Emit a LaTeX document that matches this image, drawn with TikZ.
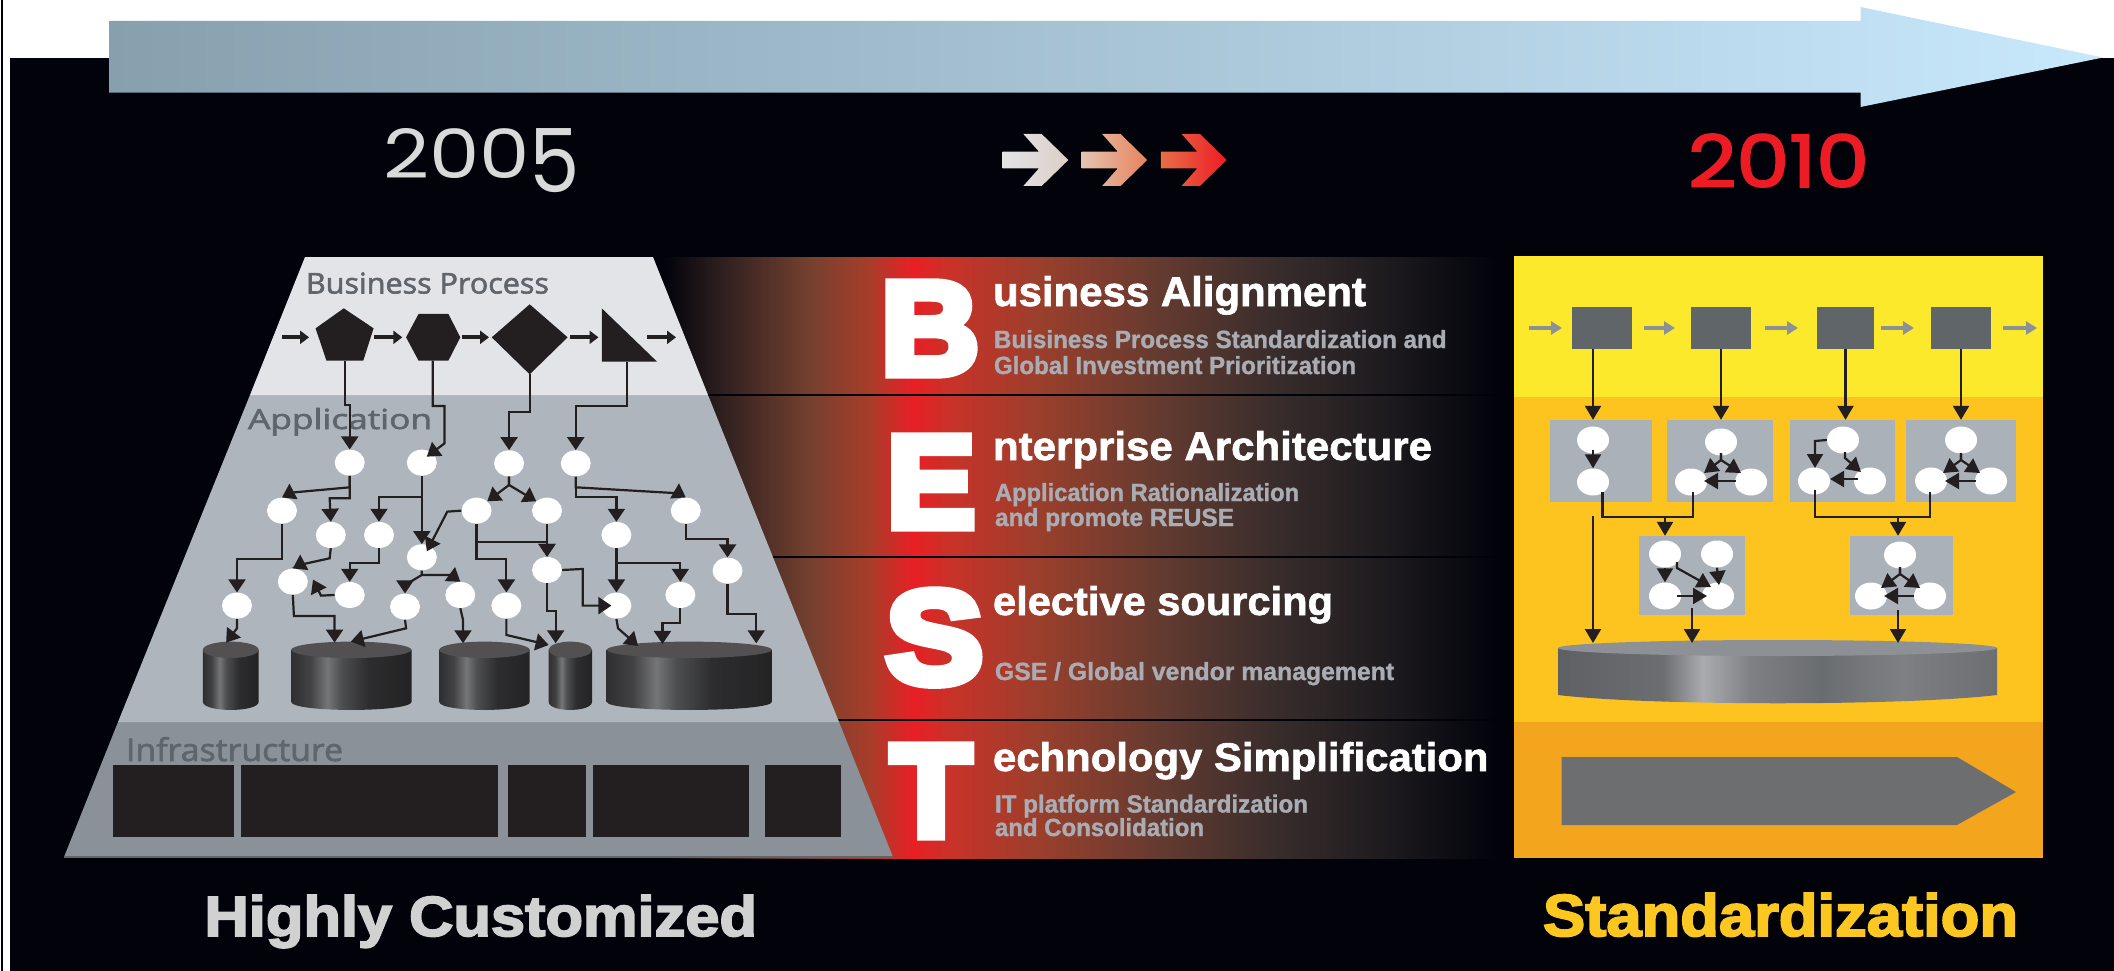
\documentclass[tikz,border=0pt]{standalone}
\usepackage{graphicx}
\usepackage{fontspec}
\usetikzlibrary{arrows.meta,shapes.geometric}
\setmainfont{Liberation Sans}
\newfontfamily\bigfont[FakeBold=7]{Liberation Sans Bold}
\newfontfamily\heavyfont[FakeBold=3]{Liberation Sans Bold}
\newfontfamily\semifont[FakeBold=1.5]{Liberation Sans Bold}
\newfontfamily\subfont[FakeBold=1.2]{Liberation Sans Bold}
\newfontfamily\thinfont[FakeBold=2]{Open Sans}
\newfontfamily\yearfont{Poppins}
\newfontfamily\yearbold[FakeBold=2.5]{Poppins}
\newcommand\fitbox[3]{\resizebox{#1pt}{#2pt}{#3}}
\definecolor{bgk}{HTML}{01020A}
\definecolor{ink}{HTML}{231F20}
\definecolor{bizc}{HTML}{E2E4E8}
\definecolor{appc}{HTML}{AEB5BD}
\definecolor{infc}{HTML}{8A9198}
\definecolor{labc}{HTML}{5F656B}
\definecolor{subc}{HTML}{A9ADB3}
\definecolor{yelc}{HTML}{FDE92C}
\definecolor{orac}{HTML}{FDC41F}
\definecolor{ambc}{HTML}{F3A51E}
\definecolor{squc}{HTML}{5F6568}
\definecolor{grac}{HTML}{8B9196}
\definecolor{boxc}{HTML}{ABB1B9}
\definecolor{redc}{HTML}{ED1C24}
\definecolor{topL}{HTML}{87A0AE}
\definecolor{topR}{HTML}{C8E8FC}
\definecolor{arA}{HTML}{E2E4E6}
\definecolor{arB}{HTML}{DCCFC6}
\definecolor{arC}{HTML}{E4C4B0}
\definecolor{arD}{HTML}{E8835C}
\definecolor{arE}{HTML}{E86E48}
\definecolor{stdc}{HTML}{FDC721}
\definecolor{disktop}{HTML}{8D9094}
\definecolor{pointc}{HTML}{6D6E70}
\definecolor{bA}{HTML}{2D1F1F}
\definecolor{bB}{HTML}{74402F}
\definecolor{bC}{HTML}{A83D2A}
\definecolor{bD}{HTML}{E81F25}
\definecolor{bE}{HTML}{C93229}
\definecolor{bF}{HTML}{9A3F2C}
\definecolor{bG}{HTML}{653B30}
\definecolor{bH}{HTML}{3A2D2C}
\definecolor{bI}{HTML}{1D1B1F}
\pgfdeclarehorizontalshading{bandsh}{100bp}{
 color(0bp)=(bgk); color(26.3bp)=(bgk); color(29.6bp)=(bA); color(34.7bp)=(bB);
 color(38.2bp)=(bC); color(40.7bp)=(bD); color(42.8bp)=(bE); color(48bp)=(bF);
 color(54.7bp)=(bG); color(61.3bp)=(bH); color(67.9bp)=(bI); color(74.4bp)=(bgk); color(100bp)=(bgk)}
\definecolor{dA}{HTML}{2F2F31}
\definecolor{dB}{HTML}{424244}
\definecolor{dC}{HTML}{757678}
\definecolor{dD}{HTML}{4D4E50}
\definecolor{dE}{HTML}{2D2D2F}
\definecolor{dF}{HTML}{232324}
\pgfdeclarehorizontalshading{darkcyl}{100bp}{
 color(0bp)=(dA); color(25bp)=(dA); color(33bp)=(dB); color(40bp)=(dC); color(46bp)=(dD);
 color(57bp)=(dE); color(75bp)=(dF); color(100bp)=(dF)}
\definecolor{gA}{HTML}{5E6063}
\definecolor{gB}{HTML}{6C6E71}
\definecolor{gC}{HTML}{A9ABAE}
\definecolor{gD}{HTML}{7E8083}
\definecolor{gE}{HTML}{6A6D70}
\pgfdeclarehorizontalshading{greycyl}{100bp}{
 color(0bp)=(gA); color(25bp)=(gA); color(37bp)=(gB); color(41.5bp)=(gC); color(47bp)=(gD);
 color(55bp)=(gE); color(64bp)=(gD); color(75bp)=(gB); color(100bp)=(gB)}
\tikzset{
 flow/.style={draw=ink,line width=2.2pt,-{Triangle[width=17pt,length=13pt]}},
 rflow/.style={draw=ink,line width=2.2pt,-{Triangle[width=16pt,length=14pt]}},
 rbar/.style={draw=ink,line width=2.2pt},
 blockblack/.style={draw=ink,line width=4pt,-{Triangle[width=13pt,length=9pt]}},
 blockgrey/.style={draw=grac,line width=4pt,-{Triangle[width=13pt,length=11pt]}},
 ldot/.style={ellipse,fill=white,inner sep=0pt,minimum width=30pt,minimum height=26pt},
 rdot/.style={ellipse,fill=white,inner sep=0pt,minimum width=32pt,minimum height=27pt},
 square/.style={rectangle,fill=squc,inner sep=0pt,minimum width=60pt,minimum height=42pt},
 gbox/.style={rectangle,fill=boxc,inner sep=0pt,minimum height=82pt},
 txt/.style={anchor=base west,inner sep=0pt,outer sep=0pt},
 infra/.style={fill=ink}
}
\newcommand\cylshape[6]{% xl xr ytop ybot shading topcolour
 \pgfmathsetmacro\cmx{(#1+#2)/2}\pgfmathsetmacro\crx{(#2-#1)/2}
 \pgfmathsetmacro\cry{(#4-#3)*0.12}\pgfmathsetmacro\ccy{#3+\cry}
 \pgfmathsetmacro\cby{#4-\cry}\pgfmathsetmacro\cbk{#4+\cry*0.33}
 \shade[shading=#5] (#1,\ccy) -- (#1,\cby) .. controls (#1,\cbk) and (#2,\cbk) .. (#2,\cby) -- (#2,\ccy) -- cycle;
 \fill[#6] (\cmx,\ccy) ellipse [x radius=\crx,y radius=\cry];
}
\begin{document}
\begin{tikzpicture}[x=1pt,y=-1pt]
\useasboundingbox (0,0) rectangle (2114,971);
\fill[white] (0,0) rectangle (2114,971);
\fill[bgk] (10,58) rectangle (2114,971);
\fill[bgk] (0.5,0) rectangle (3,971);
% top arrow
\shade[left color=topL,right color=topR] (109,21) -- (1860.5,21) -- (1860.5,7) -- (2103,57.5) -- (1860.5,107) -- (1860.5,92.7) -- (109,92.7) -- cycle;
% years
\node[txt,text=black!15] (y2005) at (383,178) {\fitbox{197}{50}{\yearfont 200\raisebox{-0.23\height}{\scalebox{1}[1.3]{5}}}};
\node[txt,text=redc] (y2010) at (1688,187) {\fitbox{181}{53}{\yearbold 2010}};
% three arrows
\foreach \dx/\ca/\cb in {0/arA/arB,236.5/arC/arD,475/arE/redc}{
 \begin{scope}[shift={(960,110)},x=0.3333pt,y=-0.3333pt,xshift=\dx*0.3333pt]
  \shade[left color=\ca,right color=\cb] (128,125) -- (237,125) -- (190,72) -- (245,72) -- (325,150) -- (245,228) -- (190,228) -- (237,175) -- (128,175) -- cycle;
 \end{scope}
}
% central band
\shade[shading=bandsh] (640,257) rectangle (1510,858);
\foreach \yy in {395,557,720}{\draw[bgk,line width=2pt] (640,\yy) -- (1510,\yy);}
\node[txt,text=white] (lB) at (881,374) {\fitbox{98}{91}{\bigfont B}};
\node[txt,text=white] (lE) at (887,527) {\fitbox{88}{90}{\bigfont E}};
\node[txt,text=white] (lS) at (886,683) {\fitbox{97}{92}{\bigfont S}};
\node[txt,text=white] (lT) at (891,836) {\fitbox{80}{90}{\bigfont T}};
\node[txt,text=white] (h1) at (993,306) {\fitbox{373}{30}{\semifont usiness Alignment}};
\node[txt,text=white] (h2) at (993,460) {\fitbox{439}{29}{\semifont nterprise Architecture}};
\node[txt,text=white] (h3) at (993,615) {\fitbox{340}{29}{\semifont elective sourcing}};
\node[txt,text=white] (h4) at (993,771) {\fitbox{495.5}{29}{\semifont echnology Simplification}};
\node[txt,text=subc] (s11) at (994,348) {\fitbox{452.5}{18}{\subfont Buisiness Process Standardization and}};
\node[txt,text=subc] (s12) at (994,374) {\fitbox{362}{18}{\subfont Global Investment Prioritization}};
\node[txt,text=subc] (s21) at (995,501) {\fitbox{304}{18}{\subfont Application Rationalization}};
\node[txt,text=subc] (s22) at (995,526) {\fitbox{239}{18}{\subfont and promote REUSE}};
\node[txt,text=subc] (s31) at (995,680) {\fitbox{399}{18}{\subfont GSE / Global vendor management}};
\node[txt,text=subc] (s41) at (995,812.5) {\fitbox{313}{18}{\subfont IT platform Standardization}};
\node[txt,text=subc] (s42) at (995,836) {\fitbox{209}{18}{\subfont and Consolidation}};
% pyramid
\fill[infc] (118,722) -- (839,722) -- (893,857) -- (64,857) -- cycle;
\fill[appc] (250,395) -- (708,395) -- (839,722) -- (118,722) -- cycle;
\fill[bizc] (305,257) -- (653,257) -- (708,395) -- (250,395) -- cycle;
\draw[labc,line width=1.5pt] (64,857) -- (893,857);
\foreach \xa/\xb in {113/234,241/498,508/585.5,593/749,765/841}{\fill[infra] (\xa,765) rectangle (\xb,837);}
\node[txt,text=labc] (lbp) at (306,293.5) {\fitbox{243}{21}{\thinfont Business Process}};
\node[txt,text=labc] (lap) at (248,429) {\fitbox{184}{21}{\thinfont Application}};
\node[txt,text=labc] (lin) at (126,761) {\fitbox{217}{24}{\thinfont Infrastructure}};
\node[txt,text=black!18] (bl) at (204.5,936) {\fitbox{552.5}{41}{\heavyfont Highly Customized}};
\node[txt,text=stdc] (br) at (1543,936) {\fitbox{475}{43}{\heavyfont Standardization}};
% left diagram, in the crop's own coordinates
\begin{scope}[shift={(50,240)},x=0.542pt,y=-0.3333pt]
 \fill[ink] (542,205) -- (597,265) -- (578,362) -- (510,362) -- (490,265) -- cycle;
 \fill[ink] (680,222) -- (735,222) -- (757,292) -- (735,362) -- (680,362) -- (657,292) -- cycle;
 \fill[ink] (885,193) -- (955,292) -- (885,403) -- (815,292) -- cycle;
 \fill[ink] (1018,205) -- (1120,365) -- (1018,365) -- cycle;
 \coordinate (pentb) at (545,362); \coordinate (hexb) at (706,362);
 \coordinate (diab) at (885,403); \coordinate (trib) at (1065,365);
 \foreach \xa/\xb in {428/478,598/650,760/810,960/1012,1102/1155}{
   \coordinate (pa) at (\xa,292); \coordinate (pb) at (\xb,292);
   \draw[blockblack] (pa) -- (pb);}
 \cylshape{282}{385}{1205}{1410}{darkcyl}{ink!78}
 \cylshape{445}{667}{1205}{1410}{darkcyl}{ink!78}
 \cylshape{718}{885}{1205}{1410}{darkcyl}{ink!78}
 \cylshape{920}{1000}{1205}{1410}{darkcyl}{ink!78}
 \cylshape{1027}{1332}{1205}{1410}{darkcyl}{ink!78}
 \coordinate (t1) at (325,1208); \coordinate (t2a) at (525,1208); \coordinate (t2b) at (555,1205);
 \coordinate (t3) at (762,1210); \coordinate (t4a) at (920,1215); \coordinate (t4b) at (933,1210);
 \coordinate (t5a) at (1085,1218); \coordinate (t5b) at (1130,1212); \coordinate (t5c) at (1303,1210);
 \foreach \nm/\xx/\yy in {n1/553/668,n2/686/668,n3/847/670,n4/970/670,a/428/812,b/787/812,c/917/812,d/1173/812,e/518/885,f/607/885,g/1045/885,h/686/952,i/917/990,j/1250/992,k/448/1025,l/553/1065,m/757/1065,o/1163/1065,p/345/1097,q/655/1100,r/842/1097,s/1045/1097}{
   \node[ldot] (\nm) at (\xx,\yy) {};}
 \draw[flow] (pentb) -- (545,495) -- (553,495) -- (n1.north);
 \draw[flow] (hexb) -- (706,498) -- (728,498) -- (728,610) -- ([xshift=5pt,yshift=6pt]n2.center);
 \draw[flow] (diab) -- (885,515) -- (847,515) -- (n3.north);
 \draw[flow] (trib) -- (1065,498) -- (970,498) -- (n4.north);
 \draw[flow] (n1.south) -- (553,742) -- (445,758) -- (a.north);
 \draw[flow] (n1.south) -- (553,775) -- (516,775) -- (e.north);
 \draw[flow] (n2.south) -- (h.north);
 \draw[flow] (686,772) -- (607,772) -- (f.north);
 \draw[flow] (n3.south) -- (847,735) -- (b.north east);
 \draw[flow] (n3.south) -- (847,735) -- (c.north west);
 \draw[flow] (n4.south) -- (970,742) -- (1160,760) -- (d.north);
 \draw[flow] (n4.south) -- (970,772) -- (1045,772) -- (g.north);
 \draw[flow] (a.south) -- (428,958) -- (345,958) -- (p.north);
 \draw[flow] (e.south) -- (516,955) -- (460,975) -- (k.north);
 \draw[flow] (f.south) -- (607,970) -- (553,970) -- (l.north);
 \draw[flow] (b.west) -- (733,815) -- ([xshift=5pt,yshift=6pt]h.center);
 \draw[flow] (b.south) -- (787,958) -- (842,958) -- (r.north);
 \draw[flow] (787,905) -- (917,905) -- (i.north);
 \draw[flow] (c.south) -- (i.north);
 \draw[flow] (d.south) -- (1173,897) -- (1250,897) -- (j.north);
 \draw[flow] (g.south) -- (s.north);
 \draw[flow] (1045,970) -- (1163,970) -- (o.north);
 \draw[flow] (i.east) -- (983,987) -- (983,1097) -- ([xshift=-5pt]s.center);
 \draw[flow] (h.south) -- (686,1005) -- (655,1035) -- (q.north);
 \draw[flow] (686,1005) -- (740,1005) -- (m.north);
 \draw[flow] (l.west) -- (500,1067) -- ([xshift=5pt,yshift=2pt]k.east);
 \draw[flow] (k.south) -- (450,1128) -- (525,1128) -- (t2a);
 \draw[flow] (p.south) -- (345,1165) -- (t1);
 \draw[flow] (q.south) -- (657,1165) -- (t2b);
 \draw[flow] (m.south) -- (762,1140) -- (t3);
 \draw[flow] (r.south) -- (842,1185) -- (t4a);
 \draw[flow] (i.south) -- (917,1112) -- (933,1112) -- (t4b);
 \draw[flow] (s.south) -- (1048,1165) -- (t5a);
 \draw[flow] (o.south) -- (1163,1150) -- (1130,1150) -- (t5b);
 \draw[flow] (j.south) -- (1250,1122) -- (1303,1122) -- (t5c);
\end{scope}
% right panel
\fill[yelc] (1514,256) rectangle (2043,397);
\fill[orac] (1514,397) rectangle (2043,722);
\fill[ambc] (1514,722) rectangle (2043,858);
\fill[pointc] (1561.5,757) -- (1957,757) -- (2016,792) -- (1957,825) -- (1561.5,825) -- cycle;
\node[square] (s1) at (1602,328) {};
\node[square] (s2) at (1721,328) {};
\node[square,minimum width=57pt] (s3) at (1845.5,328) {};
\node[square] (s4) at (1961,328) {};
\foreach \xa/\xb in {1529/1562,1644/1675,1765/1798,1881/1914,2003/2037}{
  \coordinate (ga) at (\xa,328); \coordinate (gb) at (\xb,328);
  \draw[blockgrey] (ga) -- (gb);}
\node[gbox,minimum width=102pt] (B1) at (1601,461) {};
\node[gbox,minimum width=106pt] (B2) at (1720,461) {};
\node[gbox,minimum width=105pt] (B3) at (1842.5,461) {};
\node[gbox,minimum width=110pt] (B4) at (1961,461) {};
\node[gbox,minimum width=106pt,minimum height=79pt] (B5) at (1692,575.5) {};
\node[gbox,minimum width=103pt,minimum height=79pt] (B6) at (1901.5,575.5) {};
\shade[shading=greycyl] (1558,648) -- (1558,695) .. controls (1650,706) and (1905,706) .. (1997,695) -- (1997,648) -- cycle;
\fill[disktop] (1777.5,648) ellipse [x radius=219.5,y radius=8];
\coordinate (disk) at (1777,643);
\foreach \nm/\xx/\yy in {e1a/1593/440,e1b/1593/482,e2a/1721/442,e2b/1691/482,e2c/1751/482,e3a/1843/440,e3b/1814/481,e3c/1870/481,e4a/1961/440,e4b/1931/481,e4c/1991/481,e5a/1665/554,e5b/1717/554,e5c/1665/596,e5d/1718/596,e6a/1900/555,e6b/1871/596,e6c/1930/596}{
  \node[rdot] (\nm) at (\xx,\yy) {};}
\draw[rflow] ([xshift=-9pt]s1.south) -- ([xshift=-8pt]B1.north);
\draw[rflow] (s2.south) -- (s2.south |- B2.north);
\draw[rflow] (s3.south) -- (s3.south |- B3.north);
\draw[rflow] (s4.south) -- (s4.south |- B4.north);
\draw[rflow] (1593,450) -- (e1b.north);
\foreach \tx/\ty/\lx/\rx/\ay/\ax/\bx in {1721/453/1704/1741/473/1736/1704,1961/453/1943/1980/473/1976/1945,1900/567/1881/1920/588/1914/1884}{
  \coordinate (tip1) at (\lx,\ay); \coordinate (tip2) at (\rx,\ay);
  \coordinate (fork) at (\tx,\ty+7);
  \draw[rflow] (\tx,\ty) -- (fork) -- (tip1);
  \draw[rflow] (\tx,\ty) -- (fork) -- (tip2);
  \coordinate (ha) at (\ax,\ay+8); \coordinate (hb) at (\bx,\ay+8);
  \draw[rflow] (ha) -- (hb);
}
\draw[rflow] (e3a.west) -- (1815,441) -- (1815,468);
\draw[rflow] (1845,452) -- (1845,458) -- (1861,472);
\draw[rflow] (1858,479) -- (1830,479);
\draw[rflow] (e5a.south) -- (e5c.north);
\draw[rflow] (1677,562) -- (1677,568) -- (1711,587);
\draw[rflow] (e5b.south) -- (1719,585);
\draw[rflow] (1677,596) -- (1707,596);
\draw[rbar] (1602.5,492) -- (1602.5,517) -- (1693,517) -- (1693,492);
\coordinate (j1) at (1665,517);
\draw[rflow] (j1) -- (j1 |- B5.north);
\draw[rbar] (1815,490) -- (1815,517) -- (1930,517) -- (1930,492);
\coordinate (j2) at (1898,517);
\draw[rflow] (j2) -- (j2 |- B6.north);
\coordinate (free1) at (1593,516);
\draw[rflow] (free1) -- (free1 |- disk);
\coordinate (free2) at (1692,608);
\draw[rflow] (free2) -- (free2 |- disk);
\coordinate (free3) at (1898,610);
\draw[rflow] (free3) -- (free3 |- disk);
\end{tikzpicture}
\end{document}
